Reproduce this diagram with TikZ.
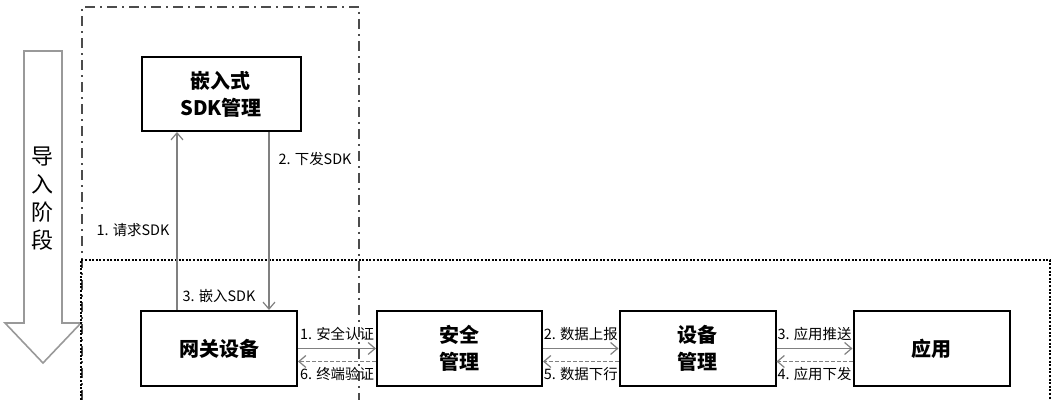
\documentclass[tikz,border=0pt]{standalone}
\usepackage{fontspec}
\setmainfont{Noto Sans CJK SC}
\usepackage{tikz}
\usetikzlibrary{arrows.meta,positioning}

\begin{document}
\begin{tikzpicture}[x=0.5pt,y=-0.5pt,
  box/.style={draw=black,line width=1pt,minimum width=78pt,minimum height=37.5pt,inner sep=0pt,align=center,font=\bfseries\fontsize{10}{13.5}\selectfont},
  lab/.style={inner sep=1pt,font=\fontsize{7.2}{8}\selectfont},
  link/.style={draw=gray,line width=0.6pt,-{Straight Barb[length=3.5pt,width=6pt]}},
  back/.style={link,dash pattern=on 2pt off 1pt}]
\useasboundingbox (0,0) rectangle (1057,400);
% phase arrow
\draw[gray!80,line width=0.8pt] (24,51) -- (62,51) -- (62,323) -- (81,323) -- (43,363) -- (5,323) -- (24,323) -- cycle;
\node (phase) at (43,199) [inner sep=0pt,align=center,font=\fontsize{11}{14}\selectfont]{导\\入\\阶\\段};
% frames
\draw[black!70,line width=0.9pt,dash pattern=on 5pt off 2.5pt on 1pt off 2.5pt] (82,400) -- (82,7) -- (359,7) -- (359,400);
\draw[black,line width=1pt,dash pattern=on 1pt off 0.8pt] (81,400) -- (81,260) -- (1050,260) -- (1050,400);
% boxes
\node (sdk) at (221,94) [box,minimum width=79.5pt,minimum height=37pt]{嵌入式\\SDK管理};
\node (gw) at (219,348.5) [box]{网关设备};
\node (sec) at (459.5,348.5) [box,minimum width=82.5pt]{安全\\管理};
\node (dev) at (697.5,348.5) [box]{设备\\管理};
\node (app) at (931.5,348.5) [box]{应用};
% import phase
\draw[link] ([xshift=-21pt]gw.north) to node[lab,left=2.5pt,pos=0.45]{1. 请求SDK} ([xshift=-21pt]gw.north |- sdk.south);
\draw[link] ([xshift=24pt]sdk.south) to node[lab,right=3.5pt,pos=0.15]{2. 下发SDK} ([xshift=24pt]sdk.south |- gw.north);
\node (emb) [lab,above=2.5pt of gw]{3. 嵌入SDK};
% data flow
\draw[link] (gw.east) to node[lab,above=2.5pt]{1. 安全认证} (sec.west);
\draw[back] ([yshift=-6.5pt]sec.west) to node[lab,below=1.5pt]{6. 终端验证} ([yshift=-6.5pt]gw.east);
\draw[link] (sec.east) to node[lab,above=2.5pt]{2. 数据上报} (dev.west);
\draw[back] ([yshift=-6.5pt]dev.west) to node[lab,below=1.5pt]{5. 数据下行} ([yshift=-6.5pt]sec.east);
\draw[link] (dev.east) to node[lab,above=2.5pt]{3. 应用推送} (app.west);
\draw[back] ([yshift=-6.5pt]app.west) to node[lab,below=1.5pt]{4. 应用下发} ([yshift=-6.5pt]dev.east);
\end{tikzpicture}
\end{document}
